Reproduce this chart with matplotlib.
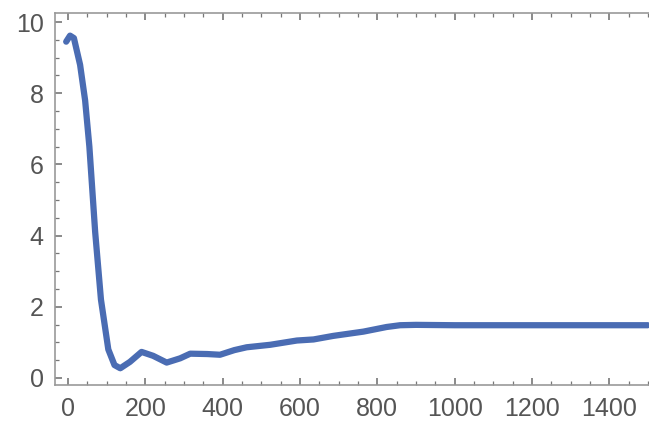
import matplotlib
matplotlib.use("Agg")
import matplotlib.pyplot as plt
from matplotlib.ticker import MultipleLocator

# values
x_vals = [-5, 5, 15, 31, 44, 55, 70, 85, 104, 120, 135, 160, 190, 220, 255,
          290, 316, 360, 393, 430, 462, 523, 592, 635, 686, 764, 824, 859,
          900, 1000, 1200, 1400, 1500]
y_vals = [9.45, 9.62, 9.55, 8.8, 7.8, 6.5, 4.1, 2.2, 0.8, 0.36, 0.27, 0.45,
          0.73, 0.62, 0.43, 0.55, 0.68, 0.67, 0.65, 0.78, 0.86, 0.93, 1.05,
          1.08, 1.18, 1.3, 1.43, 1.48, 1.49, 1.48, 1.48, 1.48, 1.48]

x_ticks = [0, 200, 400, 600, 800, 1000, 1200, 1400]
y_ticks = [0, 2, 4, 6, 8, 10]

plt.rcParams['font.family'] = ['Liberation Sans', 'DejaVu Sans']

fig = plt.figure(figsize=(6.49, 4.22), dpi=100)
ax = fig.add_axes([0.0847, 0.0877, 0.9153, 0.881])

ax.plot(x_vals, y_vals, color='#4a6cb3', lw=4.5, solid_capstyle='round',
        solid_joinstyle='round')

ax.set_xlim(-34, 1503)
ax.set_ylim(-0.2, 10.25)
ax.set_xticks(x_ticks)
ax.set_yticks(y_ticks)
ax.xaxis.set_minor_locator(MultipleLocator(50))
ax.yaxis.set_minor_locator(MultipleLocator(0.5))

for side in ['left', 'bottom', 'top']:
    ax.spines[side].set_color('#999999')
    ax.spines[side].set_linewidth(1.2)
ax.spines['right'].set_visible(False)

ax.tick_params(which='both', direction='in', color='#777777',
               top=True, labeltop=False)
ax.tick_params(which='major', length=5, width=1.2, labelsize=18,
               labelcolor='#555555')
ax.tick_params(axis='x', which='major', pad=9)
ax.tick_params(axis='y', which='major', pad=8)
ax.tick_params(which='minor', length=3, width=0.9)

fig.savefig('out.png', dpi=100)
